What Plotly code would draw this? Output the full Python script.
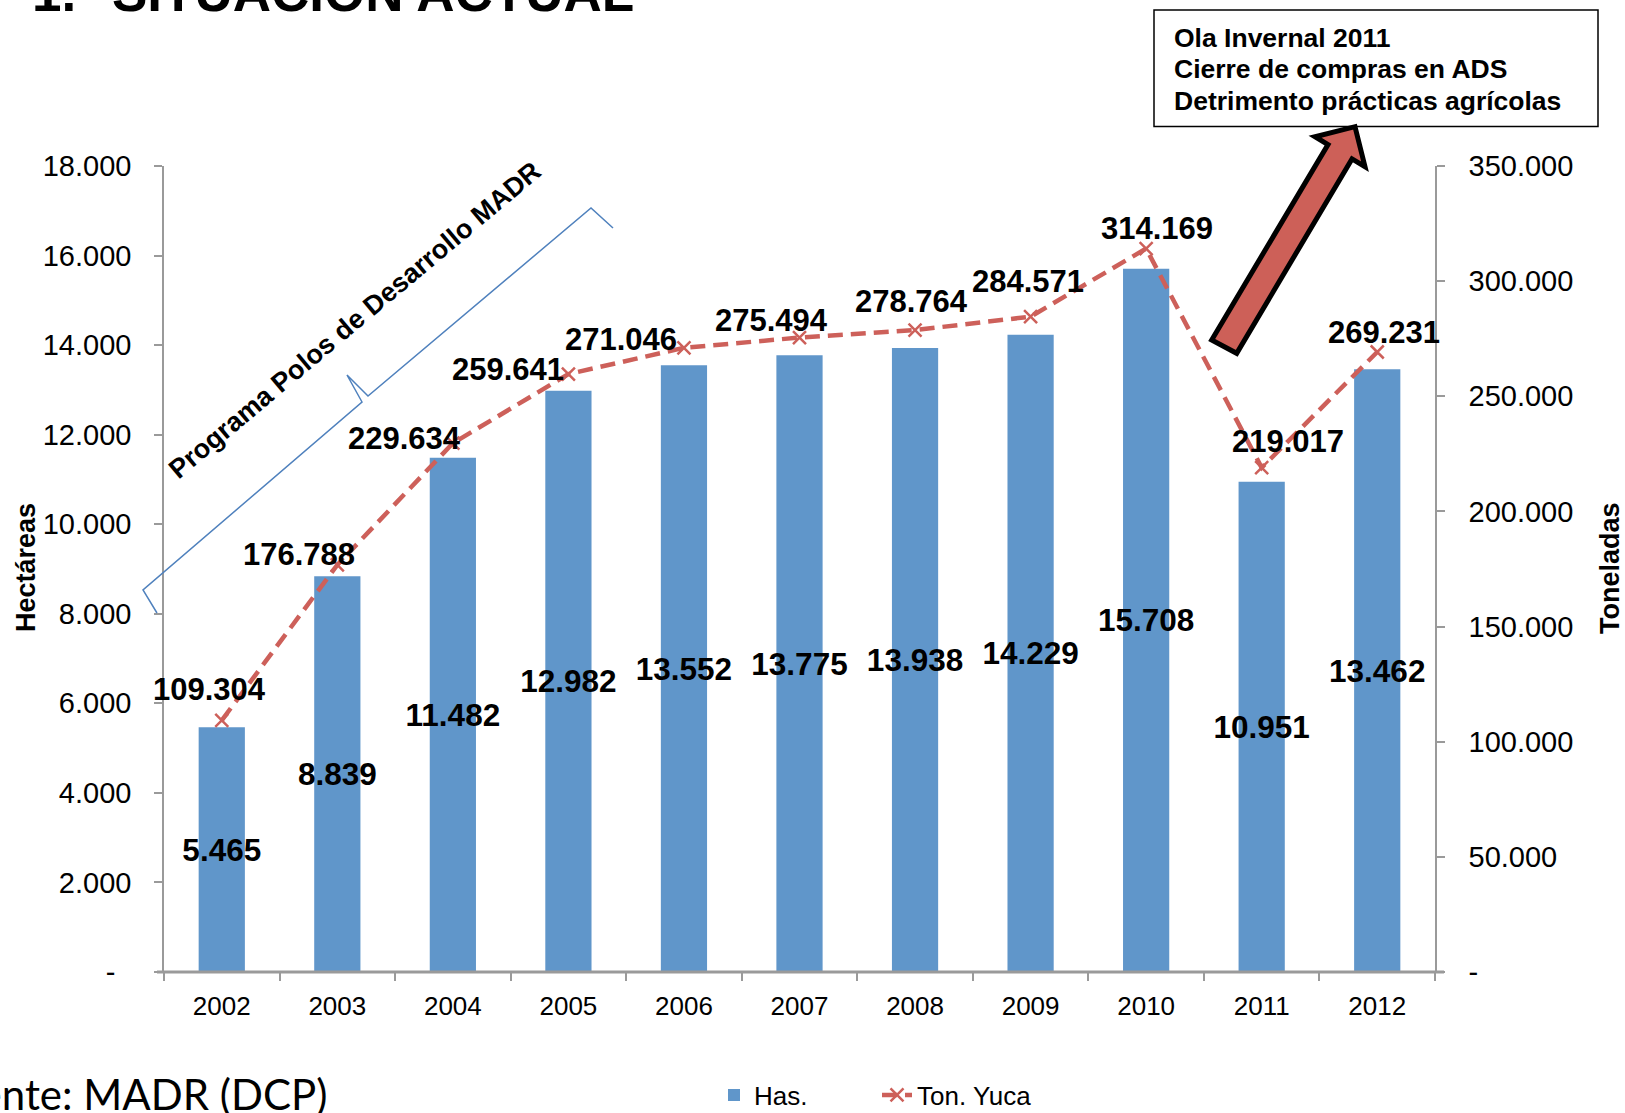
import plotly.graph_objects as go

# ---------------- data ----------------
years = ["2002", "2003", "2004", "2005", "2006", "2007", "2008", "2009", "2010", "2011", "2012"]
has = [5465, 8839, 11482, 12982, 13552, 13775, 13938, 14229, 15708, 10951, 13462]
ton_yuca = [109304, 176788, 229634, 259641, 271046, 275494, 278764, 284571, 314169, 219017, 269231]

left_tickvals = [0, 2000, 4000, 6000, 8000, 10000, 12000, 14000, 16000, 18000]
left_ticktext = ["-\u00a0\u00a0", "2.000", "4.000", "6.000", "8.000", "10.000", "12.000", "14.000", "16.000", "18.000"]
right_tickvals = [0, 50000, 100000, 150000, 200000, 250000, 300000, 350000]
right_ticktext = ["-", "50.000", "100.000", "150.000", "200.000", "250.000", "300.000", "350.000"]

# label offsets (pixels) for the production labels, as placed in the original
ton_label_dx = [-12, -38, -48, -60, -63, -28, -4, -3, 11, 26, 7]
ton_label_dy = [31, 10, 5, 5, 8, 17, 29, 35, 20, 26, 20]

# ---------------- layout geometry ----------------
W, H = 1625, 1113
L, R, T, B = 164, 1435, 166, 972


def px(x):
    return (x - L) / (R - L)


def py(y):
    return (B - y) / (B - T)


def fmt(v):
    return f"{v:,}".replace(",", ".")


FONT = "Liberation Sans, Arial, sans-serif"
BAR_COLOR = "#6096CA"
LINE_COLOR = "#CD605A"
AXIS_GRAY = "#9A9A9A"

fig = go.Figure()

fig.add_trace(go.Bar(
    x=years, y=has, name="Has.",
    marker=dict(color=BAR_COLOR, line=dict(width=0)),
    text=[fmt(v) for v in has],
    textposition="inside", insidetextanchor="middle",
    constraintext="none", textangle=0, cliponaxis=False,
    insidetextfont=dict(family=FONT, size=31.5, color="black", weight="bold"),
    yaxis="y",
))

fig.add_trace(go.Scatter(
    x=years, y=ton_yuca, name="Ton. Yuca", mode="lines+markers",
    line=dict(color=LINE_COLOR, width=4.5, dash="15px,8px"),
    marker=dict(symbol="x-thin", size=13, line=dict(color=LINE_COLOR, width=2.5), color=LINE_COLOR),
    yaxis="y2",
))

annotations = []
for i, (v, dx, dy) in enumerate(zip(ton_yuca, ton_label_dx, ton_label_dy)):
    annotations.append(dict(
        x=i, y=v, xref="x", yref="y2", text=fmt(v), showarrow=False,
        xanchor="center", yanchor="middle", xshift=dx, yshift=dy,
        font=dict(family=FONT, size=31, color="black", weight="bold"),
    ))

# axis titles
annotations.append(dict(x=px(26), y=py(568), xref="paper", yref="paper", text="Hectáreas",
                        textangle=-90, showarrow=False, xanchor="center", yanchor="middle",
                        font=dict(family=FONT, size=27, color="black", weight="bold")))
annotations.append(dict(x=px(1610), y=py(568), xref="paper", yref="paper", text="Toneladas",
                        textangle=-90, showarrow=False, xanchor="center", yanchor="middle",
                        font=dict(family=FONT, size=27, color="black", weight="bold")))

# title (cut at the top of the slide)
annotations.append(dict(x=px(30), y=py(-8), xref="paper", yref="paper", text="1.",
                        showarrow=False, xanchor="left", yanchor="middle",
                        font=dict(family=FONT, size=53, color="black", weight="bold")))
annotations.append(dict(x=px(110), y=py(-8), xref="paper", yref="paper", text="SITUACIÓN ACTUAL",
                        showarrow=False, xanchor="left", yanchor="middle",
                        font=dict(family=FONT, size=53, color="black", weight="bold")))

# source
annotations.append(dict(x=px(329), y=py(1094), xref="paper", yref="paper", text="Fuente: MADR (DCP)",
                        showarrow=False, xanchor="right", yanchor="middle",
                        font=dict(family="Lato, Open Sans, sans-serif", size=42, color="black")))

# note box text
for txt, yy in [("Ola Invernal 2011", 37.5), ("Cierre de compras en ADS", 69.5), ("Detrimento prácticas agrícolas", 101)]:
    annotations.append(dict(x=px(1172), y=py(yy), xref="paper", yref="paper", text=txt,
                            showarrow=False, xanchor="left", yanchor="middle",
                            font=dict(family=FONT, size=26.5, color="black", weight="bold")))

# program label
annotations.append(dict(x=px(355), y=py(320), xref="paper", yref="paper",
                        text="Programa Polos de Desarrollo MADR", textangle=-40,
                        showarrow=False, xanchor="center", yanchor="middle",
                        font=dict(family=FONT, size=27, color="black", weight="bold")))


def path(points):
    return "M " + " L ".join(f"{px(x):.5f},{py(y):.5f}" for x, y in points)


shapes = []
# extended horizontal axis line
shapes.append(dict(type="line", xref="paper", yref="paper", x0=px(157), x1=px(1444), y0=0, y1=0,
                   line=dict(color=AXIS_GRAY, width=3), layer="above"))
# note box
shapes.append(dict(type="rect", xref="paper", yref="paper", x0=px(1154), x1=px(1598), y0=py(10), y1=py(126.5),
                   line=dict(color="black", width=1.5), fillcolor="white", layer="below"))
# block arrow
arrow_pts = [(1211.7, 340), (1328, 144.5), (1315, 136.7), (1355, 126.7), (1365, 166.7),
             (1352, 158.9), (1236.7, 353.3)]
shapes.append(dict(type="path", xref="paper", yref="paper", path=path(arrow_pts) + " Z",
                   fillcolor="#CD6058", line=dict(color="black", width=5), layer="above"))
# brace
brace_pts = [(157, 613), (143, 590), (362, 402), (347, 375), (368, 396), (591, 208), (613, 228)]
shapes.append(dict(type="path", xref="paper", yref="paper", path=path(brace_pts),
                   line=dict(color="#4F81BD", width=1.5), layer="above"))

fig.update_layout(
    width=W, height=H,
    margin=dict(l=L, r=W - R, t=T, b=H - B, autoexpand=False),
    paper_bgcolor="white", plot_bgcolor="white",
    separators=",.",
    bargap=0.6,
    showlegend=True,
    legend=dict(orientation="h", x=px(714), y=py(1095), xanchor="left", yanchor="middle",
                font=dict(family=FONT, size=26, color="black"),
                entrywidth=118, entrywidthmode="pixels", bgcolor="rgba(0,0,0,0)"),
    xaxis=dict(type="category", range=[-0.5, 10.5], showgrid=False, showline=False, zeroline=False,
               ticks="outside", ticklen=8, tickwidth=1.5, tickcolor=AXIS_GRAY, tickson="boundaries",
               tickangle=0,
               tickfont=dict(family=FONT, size=26, color="black"), ticklabelstandoff=16),
    yaxis=dict(range=[0, 18000], tickvals=left_tickvals, ticktext=left_ticktext,
               showgrid=False, zeroline=False, showline=True, linecolor=AXIS_GRAY, linewidth=1.5,
               ticks="outside", ticklen=8, tickwidth=1.5, tickcolor=AXIS_GRAY,
               tickfont=dict(family=FONT, size=29, color="black"), ticklabelstandoff=17),
    yaxis2=dict(range=[0, 350000], tickvals=right_tickvals, ticktext=right_ticktext,
                overlaying="y", side="right",
                showgrid=False, zeroline=False, showline=True, linecolor=AXIS_GRAY, linewidth=1.5,
                ticks="outside", ticklen=8, tickwidth=1.5, tickcolor=AXIS_GRAY,
                tickfont=dict(family=FONT, size=29, color="black"), ticklabelstandoff=18),
    annotations=annotations,
    shapes=shapes,
)

fig.write_html("out.html", config={"displayModeBar": False},
               post_script="document.body.style.margin='0';document.body.style.padding='0';")
